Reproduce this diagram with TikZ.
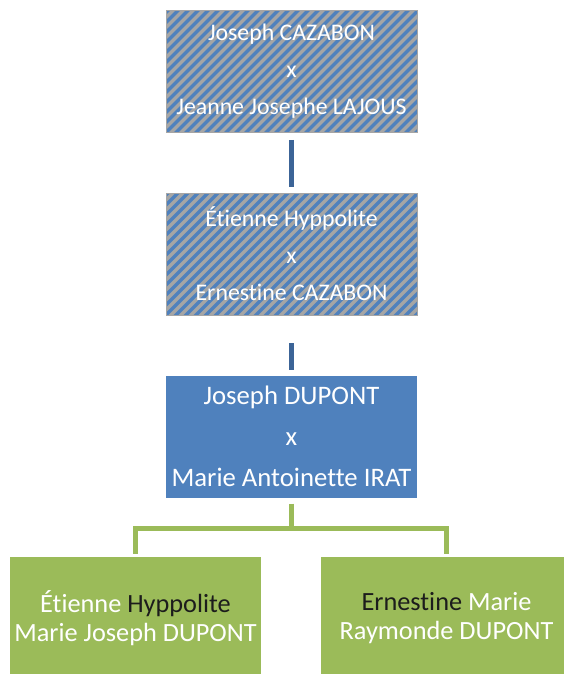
\documentclass[tikz,border=0pt]{standalone}
\usepackage{fontspec}
\setmainfont{Carlito}[Ligatures=NoCommon]
\definecolor{boxblue}{HTML}{4F81BD}
\definecolor{linkblue}{HTML}{3C6497}
\definecolor{hatchgray}{HTML}{A5A5A5}
\definecolor{kidgreen}{HTML}{9BBB59}
\definecolor{darktext}{HTML}{1C1C1C}
\tikzset{
  couple/.style={minimum width=251pt,minimum height=122pt,inner sep=0pt,
    text=white,align=center,font=\fontsize{23.8}{37}\selectfont},
  hatchbox/.style={couple,fill=hatchgray,draw=hatchgray,line width=.6pt,path picture={
    \foreach \k in {-40,...,40}
      \draw[boxblue,line width=3.4pt]
        ([xshift=\k*10pt-10pt,yshift=-10pt]path picture bounding box.south west)--++(150pt,150pt);}},
  plainbox/.style={couple,fill=boxblue,font=\fontsize{26.7}{41}\selectfont},
  kidbox/.style={minimum width=251pt,minimum height=122pt,inner sep=0pt,
    fill=kidgreen,text=white,align=center,font=\fontsize{26.3}{28.5}\selectfont},
  bluelink/.style={linkblue,line width=5.5pt},
  greenlink/.style={kidgreen,line width=5pt}
}
\begin{document}
\begin{tikzpicture}[x=1pt,y=-1pt]
\useasboundingbox (0,0) rectangle (563,674);
\node[hatchbox] (cazabon) at (291.5,71.5) {Joseph CAZABON\\x\\Jeanne Josephe LAJOUS};
\node[hatchbox] (hyppolite) at (291.5,254) {Étienne Hyppolite\\x\\Ernestine CAZABON};
\node[plainbox] (dupont) at (291.5,436.5) {Joseph DUPONT\\x\\Marie Antoinette IRAT};
\node[kidbox] (etienne) at (135.5,618) {Étienne \textcolor{darktext}{Hyppolite}\\Marie Joseph DUPONT};
\node[kidbox] (ernestine) at (446.5,618) {\textcolor{darktext}{Ernestine} Marie\\Raymonde DUPONT};
% links between generations
\draw[bluelink] ([yshift=-7pt]cazabon.south)--([yshift=6pt]hyppolite.north);
\draw[bluelink] ([yshift=-28pt]hyppolite.south)--([yshift=5pt]dupont.north);
\coordinate (fork) at (291.5,528.5);
\draw[greenlink] ([yshift=-6pt]dupont.south)--(fork);
\draw[greenlink,line cap=rect] ([yshift=5pt]etienne.north)|-(fork)-|([yshift=5pt]ernestine.north);
\end{tikzpicture}
\end{document}
